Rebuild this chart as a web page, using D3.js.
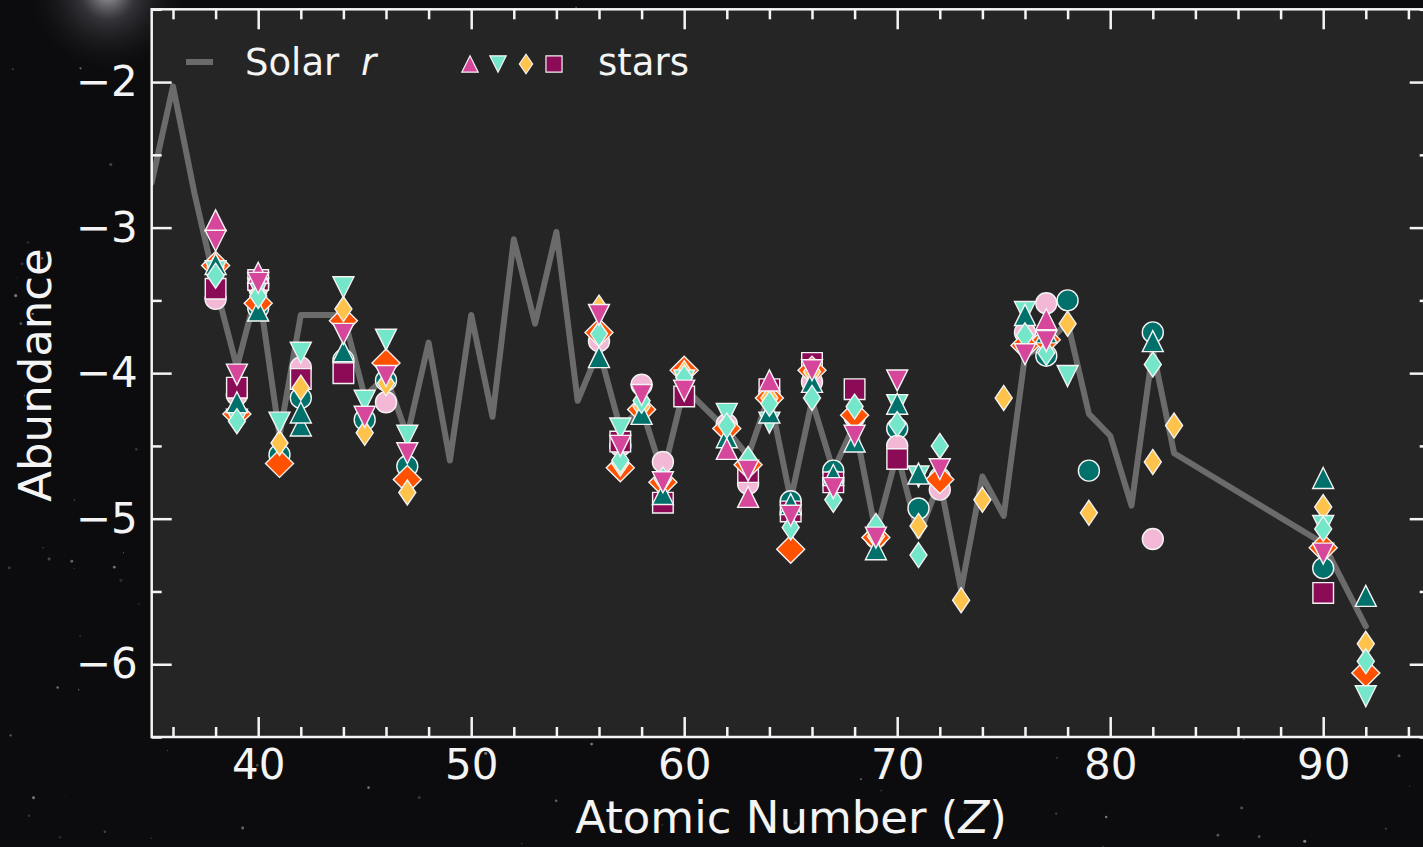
<!DOCTYPE html>
<html>
<head>
<meta charset="utf-8">
<script src="https://cdn.jsdelivr.net/npm/d3@7"></script>
<style>
  html, body { margin: 0; padding: 0; background: #0b0b0d; overflow: hidden; }
  svg { display: block; }
  text { font-family: "DejaVu Sans", sans-serif; fill: #f4f4f4; }
</style>
</head>
<body>
<svg id="chart" width="1423" height="847"></svg>
<script>
// ---- Solar r-process pattern ----
const solarZ = [35,36,37,38,39,40,41,42,44,45,46,47,48,49,50,51,52,53,54,55,56,57,58,59,60,
                62,63,64,65,66,67,68,69,70,71,72,73,74,75,76,77,78,79,80,81,82,83,90,92];
const solarR = [-2.69,-2.03,-2.76,-3.40,-3.96,-3.40,-4.43,-3.60,
                -3.60,-4.16,-4.02,-4.43,-3.79,-4.60,-3.60,-4.30,-3.08,-3.66,-3.03,-4.19,-3.84,-4.38,-4.24,-4.70,-4.10,
                -4.39,-4.57,-4.15,-4.87,-4.19,-4.67,-4.35,-5.10,-4.55,-5.12,-4.74,-5.49,-4.71,-4.98,-3.88,-3.80,-3.65,-4.28,-4.43,-4.91,-3.84,-4.55,
                -5.17,-5.74];

// ---- Stellar abundances, [Z, abundance] ----
const tealCircle = [[40,-3.55],[41,-4.56],[42,-4.17],[44,-3.91],[45,-4.32],[46,-4.05],[47,-4.64],
  [65,-4.88],[67,-4.67],[70,-4.38],[71,-4.93],[72,-4.72],[77,-3.88],[78,-3.50],[79,-4.67],[82,-3.72],[90,-5.34]];
const pinkCircle = [[38,-3.49],[39,-4.15],[40,-3.40],[42,-3.96],[46,-4.20],[56,-3.78],[57,-4.50],[58,-4.08],
  [59,-4.61],[62,-4.35],[63,-4.76],[64,-4.15],[65,-4.96],[66,-4.06],[67,-4.74],[68,-4.30],[69,-5.13],
  [70,-4.50],[72,-4.80],[76,-3.72],[77,-3.52],[82,-5.14]];
const maroonSquare = [[38,-3.42],[39,-4.10],[40,-3.36],[42,-4.04],[44,-4.00],[57,-4.47],[59,-4.89],[60,-4.16],
  [63,-4.68],[64,-4.11],[65,-4.95],[66,-3.93],[67,-4.75],[68,-4.11],[70,-4.59],[90,-5.51]];
const orangeDiamond = [[38,-3.26],[39,-4.28],[40,-3.52],[41,-4.62],[44,-3.64],[46,-3.93],[47,-4.73],[56,-3.72],
  [57,-4.65],[58,-4.25],[59,-4.75],[60,-3.98],[62,-4.38],[63,-4.63],[64,-4.17],[65,-5.21],[66,-3.98],
  [68,-4.29],[69,-5.13],[72,-4.73],[76,-3.81],[77,-3.77],[90,-5.20],[92,-6.06]];
const yellowDiamond = [[38,-3.27],[39,-4.25],[40,-3.45],[41,-4.48],[42,-4.10],[44,-3.56],[45,-4.41],[46,-4.07],
  [47,-4.82],[56,-3.55],[57,-4.62],[58,-4.23],[60,-4.00],[63,-4.62],[64,-4.17],[66,-3.99],[69,-5.12],
  [71,-5.05],[73,-5.56],[74,-4.87],[75,-4.17],[78,-3.66],[79,-4.96],[82,-4.61],[83,-4.36],[90,-4.92],[92,-5.86]];
const aquaDown = [[38,-3.30],[39,-4.32],[40,-3.42],[41,-4.34],[42,-3.86],[44,-3.41],[45,-4.19],[46,-3.77],
  [47,-4.43],[57,-4.38],[60,-4.05],[62,-4.28],[64,-4.34],[70,-4.22],[71,-4.71],[76,-3.58],[78,-4.02],
  [90,-5.05],[92,-6.22]];
const tealUp = [[38,-3.25],[39,-4.20],[40,-3.57],[42,-4.36],[42,-4.27],[44,-3.85],[56,-3.89],[58,-4.28],[59,-4.83],
  [62,-4.44],[64,-4.27],[65,-4.90],[66,-4.06],[67,-4.70],[68,-4.47],[69,-5.21],[70,-4.21],[71,-4.69],
  [76,-3.60],[77,-3.72],[82,-3.78],[90,-4.72],[92,-5.53]];
const aquaDiamond = [[38,-3.33],[39,-4.33],[40,-3.47],[56,-3.73],[57,-4.60],[58,-4.19],[59,-4.73],[60,-4.03],
  [62,-4.36],[63,-4.59],[64,-4.21],[65,-5.06],[66,-4.17],[67,-4.87],[68,-4.23],[69,-5.05],[70,-4.35],
  [71,-5.25],[72,-4.50],[76,-3.74],[77,-3.86],[82,-3.94],[90,-5.07],[92,-5.98]];
const pinkUp = [[38,-2.95],[40,-3.31],[62,-4.52],[63,-4.85],[64,-4.05],[77,-3.63]];
const pinkDown = [[38,-3.09],[39,-4.01],[40,-3.38],[44,-3.73],[45,-4.30],[46,-4.02],[47,-4.55],[56,-3.60],
  [57,-4.50],[58,-4.15],[59,-4.75],[60,-4.12],[63,-4.67],[65,-4.98],[66,-3.98],[67,-4.79],[68,-4.43],
  [69,-5.13],[70,-4.05],[72,-4.66],[76,-3.87],[77,-3.78],[90,-5.24]];

// Drawing order, back to front
const starSeries = [
  { data: tealCircle,    shape: "circle",   color: "#00706b" },
  { data: pinkCircle,    shape: "circle",   color: "#f2b8d6" },
  { data: maroonSquare,  shape: "square",   color: "#8c0b56" },
  { data: orangeDiamond, shape: "bigDiamond", color: "#ff5100" },
  { data: yellowDiamond, shape: "diamond",  color: "#ffc24b" },
  { data: aquaDown,      shape: "down",     color: "#74e6c9" },
  { data: tealUp,        shape: "up",       color: "#00706b" },
  { data: aquaDiamond,   shape: "diamond",  color: "#74e6c9" },
  { data: pinkUp,        shape: "up",       color: "#d6479c" },
  { data: pinkDown,      shape: "down",     color: "#d6479c" }
];

const xMajor = [40, 50, 60, 70, 80, 90];
const xMinor = d3.range(36, 95, 2).filter(v => v % 10 !== 0);
const yMajor = [-6, -5, -4, -3, -2];
const yMinor = [-6.5, -5.5, -4.5, -3.5, -2.5, -1.5];

// ---- Layout ----
const W = 1423, H = 847;
const plot = { left: 151.7, top: 9.3, right: 1429.7, bottom: 737 };
const x = d3.scaleLinear().domain([35, 95]).range([plot.left, plot.right]);
const y = d3.scaleLinear().domain([-6.5, -1.5]).range([plot.bottom, plot.top]);

const svg = d3.select("#chart");
const defs = svg.append("defs");

// ---- Night-sky backdrop ----
svg.append("rect").attr("width", W).attr("height", H).attr("fill", "#0c0c0e");
const glow = defs.append("radialGradient").attr("id", "glow");
glow.append("stop").attr("offset", "0%").attr("stop-color", "#e8e8ee").attr("stop-opacity", 0.7);
glow.append("stop").attr("offset", "35%").attr("stop-color", "#9a9aa4").attr("stop-opacity", 0.28);
glow.append("stop").attr("offset", "100%").attr("stop-color", "#202028").attr("stop-opacity", 0);
svg.append("circle").attr("cx", 108).attr("cy", -8).attr("r", 80).attr("fill", "url(#glow)");

const rng = d3.randomLcg(0.4217);
const starDots = d3.range(300).map(() => ({
  cx: rng() * W, cy: rng() * H, r: 0.5 + rng() * 1.1, o: 0.12 + rng() * 0.45
}));
svg.append("g").selectAll("circle").data(starDots).join("circle")
  .attr("cx", d => d.cx).attr("cy", d => d.cy).attr("r", d => d.r)
  .attr("fill", "#dfe3ea").attr("opacity", d => d.o);

// ---- Plot area ----
svg.append("rect")
  .attr("x", plot.left).attr("y", plot.top)
  .attr("width", plot.right - plot.left).attr("height", plot.bottom - plot.top)
  .attr("fill", "#252525");

defs.append("clipPath").attr("id", "plotClip").append("rect")
  .attr("x", plot.left).attr("y", plot.top)
  .attr("width", plot.right - plot.left).attr("height", plot.bottom - plot.top);

// Solar r-process curve
const solarPts = solarZ.map((z, i) => [z, solarR[i]]);
svg.append("path")
  .attr("clip-path", "url(#plotClip)")
  .attr("d", d3.line().x(d => x(d[0])).y(d => y(d[1]))(solarPts))
  .attr("fill", "none").attr("stroke", "#6b6b6b").attr("stroke-width", 6)
  .attr("stroke-linejoin", "round").attr("stroke-linecap", "round");

// ---- Marker shapes ----
function markerPath(shape, k) {
  const p = d3.path();
  if (shape === "up") {
    const h = 10.5 * k; p.moveTo(0, -h); p.lineTo(h, h); p.lineTo(-h, h); p.closePath();
  } else if (shape === "down") {
    const h = 10.5 * k; p.moveTo(0, h); p.lineTo(h, -h); p.lineTo(-h, -h); p.closePath();
  } else if (shape === "diamond") {
    const a = 12.5 * k, b = 8.5 * k; p.moveTo(0, -a); p.lineTo(b, 0); p.lineTo(0, a); p.lineTo(-b, 0); p.closePath();
  } else if (shape === "bigDiamond") {
    const a = 14 * k; p.moveTo(0, -a); p.lineTo(a, 0); p.lineTo(0, a); p.lineTo(-a, 0); p.closePath();
  } else if (shape === "square") {
    const a = 10.3 * k; p.rect(-a, -a, 2 * a, 2 * a);
  } else {
    const r = 10.5 * k; p.moveTo(r, 0); p.arc(0, 0, r, 0, 2 * Math.PI); p.closePath();
  }
  return p.toString();
}

const markers = svg.append("g");
starSeries.forEach(s => {
  markers.append("g").selectAll("path").data(s.data).join("path")
    .attr("transform", d => `translate(${x(d[0])},${y(d[1])})`)
    .attr("d", markerPath(s.shape, 1))
    .attr("fill", s.color)
    .attr("stroke", "#f3f3f3").attr("stroke-width", 1.4).attr("stroke-linejoin", "miter");
});

// ---- Axes (inward ticks on all four sides) ----
const tickFont = 42;
const titleFont = 45;
function styleAxis(g) {
  g.select(".domain").remove();
  g.selectAll(".tick line").attr("stroke", "#f4f4f4").attr("stroke-width", 2.5);
  g.selectAll(".tick text").attr("font-size", tickFont).attr("fill", "#f4f4f4")
    .attr("font-family", "DejaVu Sans");
}
const fmt = d3.format("d");

svg.append("g").attr("transform", `translate(0,${plot.bottom})`)
  .call(d3.axisBottom(x).tickValues(xMajor).tickSize(-20).tickPadding(12).tickFormat(fmt)).call(styleAxis);
svg.append("g").attr("transform", `translate(0,${plot.bottom})`)
  .call(d3.axisBottom(x).tickValues(xMinor).tickSize(-10).tickFormat("")).call(styleAxis);
svg.append("g").attr("transform", `translate(0,${plot.top})`)
  .call(d3.axisTop(x).tickValues(xMajor).tickSize(-20).tickFormat("")).call(styleAxis);
svg.append("g").attr("transform", `translate(0,${plot.top})`)
  .call(d3.axisTop(x).tickValues(xMinor).tickSize(-10).tickFormat("")).call(styleAxis);

svg.append("g").attr("transform", `translate(${plot.left},0)`)
  .call(d3.axisLeft(y).tickValues(yMajor).tickSize(-20).tickPadding(14).tickFormat(fmt)).call(styleAxis);
svg.append("g").attr("transform", `translate(${plot.left},0)`)
  .call(d3.axisLeft(y).tickValues(yMinor).tickSize(-10).tickFormat("")).call(styleAxis);
svg.append("g").attr("transform", `translate(${plot.right},0)`)
  .call(d3.axisRight(y).tickValues(yMajor).tickSize(-20).tickFormat("")).call(styleAxis);
svg.append("g").attr("transform", `translate(${plot.right},0)`)
  .call(d3.axisRight(y).tickValues(yMinor).tickSize(-10).tickFormat("")).call(styleAxis);

// Frame
svg.append("rect")
  .attr("x", plot.left).attr("y", plot.top)
  .attr("width", plot.right - plot.left).attr("height", plot.bottom - plot.top)
  .attr("fill", "none").attr("stroke", "#f4f4f4").attr("stroke-width", 2.5);

// ---- Axis titles ----
const xTitle = svg.append("text")
  .attr("x", 791).attr("y", 833).attr("text-anchor", "middle").attr("font-size", titleFont);
xTitle.append("tspan").text("Atomic Number (");
xTitle.append("tspan").attr("font-style", "italic").text("Z");
xTitle.append("tspan").text(")");

svg.append("text")
  .attr("transform", "translate(51,375) rotate(-90)")
  .attr("text-anchor", "middle").attr("font-size", titleFont).text("Abundance");

// ---- Legend ----
const legend = svg.append("g");
legend.append("line").attr("x1", 186).attr("x2", 213).attr("y1", 62).attr("y2", 62)
  .attr("stroke", "#6b6b6b").attr("stroke-width", 6);
const solarLabel = legend.append("text").attr("x", 245).attr("y", 75).attr("font-size", 37);
solarLabel.append("tspan").text("Solar ");
solarLabel.append("tspan").attr("font-style", "italic").attr("dx", 10).text("r");

const legendKeys = [starSeries[8], starSeries[5], starSeries[4], starSeries[2]];
legend.selectAll("path.key").data(legendKeys).join("path").attr("class", "key")
  .attr("transform", (d, i) => `translate(${470 + i * 28},${64})`)
  .attr("d", d => markerPath(d.shape, 0.78))
  .attr("fill", d => d.color).attr("stroke", "#f3f3f3").attr("stroke-width", 1.2);
legend.append("text").attr("x", 598).attr("y", 75).attr("font-size", 37).text("stars");
</script>
</body>
</html>
